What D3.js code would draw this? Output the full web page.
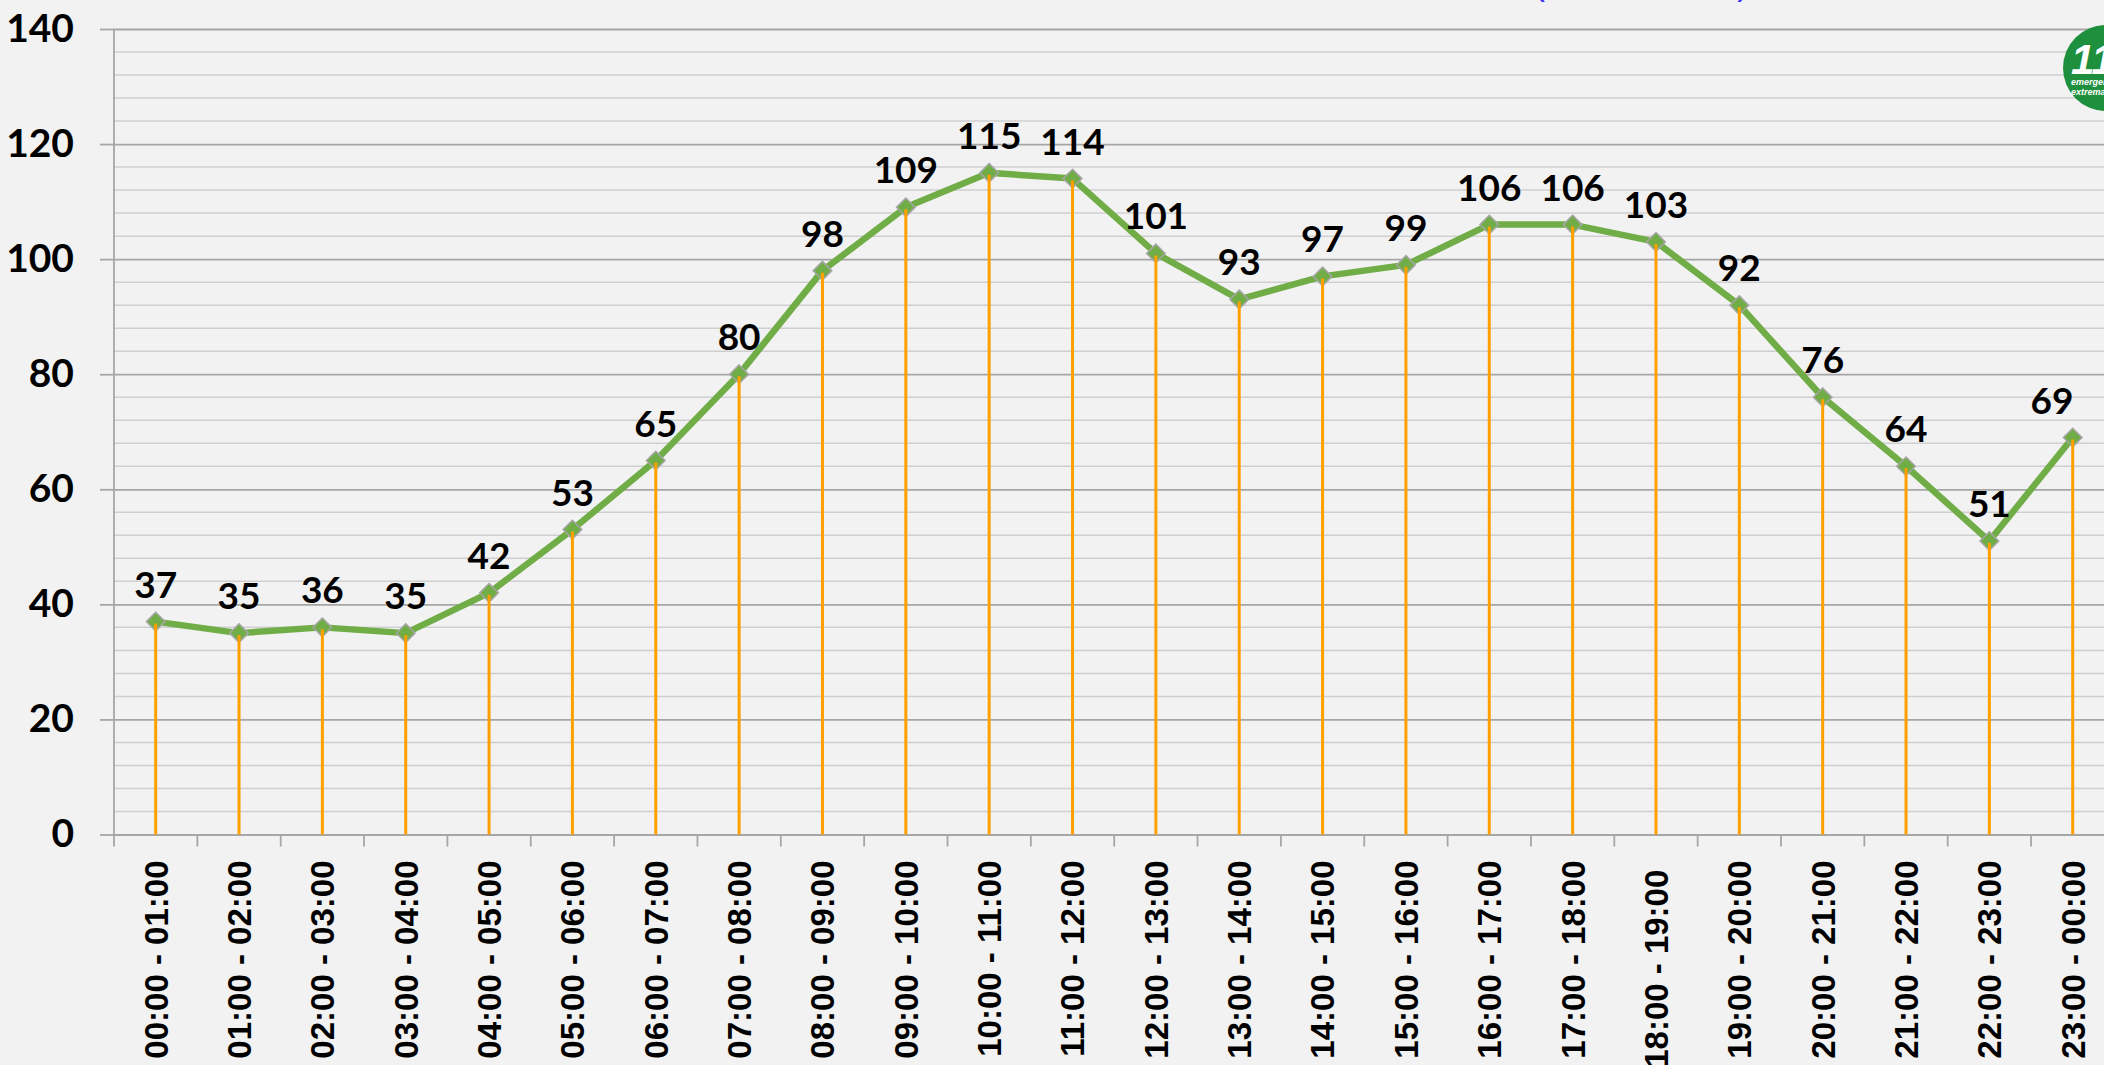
<!DOCTYPE html>
<html>
<head>
<meta charset="utf-8">
<script src="https://cdn.jsdelivr.net/npm/d3@7"></script>
<style>
  body { margin: 0; background: #f2f2f2; }
  svg { display: block; }
</style>
</head>
<body>
<script>
// franjas horarias
const categories = [
  "00:00 - 01:00", "01:00 - 02:00", "02:00 - 03:00", "03:00 - 04:00",
  "04:00 - 05:00", "05:00 - 06:00", "06:00 - 07:00", "07:00 - 08:00",
  "08:00 - 09:00", "09:00 - 10:00", "10:00 - 11:00", "11:00 - 12:00",
  "12:00 - 13:00", "13:00 - 14:00", "14:00 - 15:00", "15:00 - 16:00",
  "16:00 - 17:00", "17:00 - 18:00", "18:00 - 19:00\u00a0", "19:00 - 20:00",
  "20:00 - 21:00", "21:00 - 22:00", "22:00 - 23:00", "23:00 - 00:00"
];
const values = [37, 35, 36, 35, 42, 53, 65, 80, 98, 109, 115, 114,
                101, 93, 97, 99, 106, 106, 103, 92, 76, 64, 51, 69];
const majorTicks = [0, 20, 40, 60, 80, 100, 120, 140];
const minorTicks = d3.range(0, 141, 4);

const W = 2104, H = 1065;
const plotLeft = 114, plotTop = 29, plotBottom = 834.5;
const bandW = 83.35;

const svg = d3.select("body").append("svg")
    .attr("width", W)
    .attr("height", H);

svg.append("rect").attr("width", W).attr("height", H).attr("fill", "#f2f2f2");

const x = d3.scaleBand()
    .domain(categories)
    .range([plotLeft, plotLeft + bandW * categories.length]);

const y = d3.scaleLinear()
    .domain([0, 140])
    .range([plotBottom, plotTop]);

// lineas de division secundarias
svg.append("g")
  .selectAll("line")
  .data(minorTicks.filter(d => d % 20 !== 0))
  .enter().append("line")
    .attr("x1", plotLeft).attr("x2", W)
    .attr("y1", d => y(d)).attr("y2", d => y(d))
    .attr("stroke", "#cfcfcf")
    .attr("stroke-width", 1.5);

// eje Y con lineas principales
const yAxis = svg.append("g")
    .attr("transform", `translate(${plotLeft},0)`)
    .call(d3.axisLeft(y).tickValues(majorTicks).tickSize(14).tickPadding(26));
yAxis.select(".domain").remove();
yAxis.selectAll(".tick line").clone()
    .attr("x1", 0).attr("x2", W - plotLeft);
yAxis.selectAll(".tick line")
    .attr("stroke", "#a6a6a6")
    .attr("stroke-width", 1.8);
yAxis.selectAll(".tick text")
    .attr("font-family", "Lato, sans-serif")
    .attr("font-weight", "bold")
    .attr("font-size", 39)
    .attr("fill", "#000");

// linea del eje Y
svg.append("line")
    .attr("x1", plotLeft).attr("x2", plotLeft)
    .attr("y1", plotTop).attr("y2", plotBottom + 12)
    .attr("stroke", "#a6a6a6")
    .attr("stroke-width", 1.8);

// eje X
const xAxis = svg.append("g")
    .attr("transform", `translate(0,${plotBottom})`)
    .call(d3.axisBottom(x).tickSize(0).tickPadding(0));
xAxis.select(".domain")
    .attr("stroke", "#a6a6a6")
    .attr("stroke-width", 1.8);
xAxis.selectAll(".tick text")
    .attr("transform", "translate(0,26) rotate(-90)")
    .attr("text-anchor", "end")
    .attr("dy", "0.36em")
    .attr("font-family", "'Liberation Sans', Arial, sans-serif")
    .attr("font-weight", "bold")
    .attr("font-size", 33)
    .attr("fill", "#000");

// marcas entre categorias
svg.append("g")
  .selectAll("line")
  .data(categories.slice(1))
  .enter().append("line")
    .attr("x1", d => x(d)).attr("x2", d => x(d))
    .attr("y1", plotBottom).attr("y2", plotBottom + 12)
    .attr("stroke", "#a6a6a6")
    .attr("stroke-width", 1.8);

const cx = (d, i) => x(categories[i]) + x.bandwidth() / 2;

// linea de la serie
svg.append("path")
    .datum(values)
    .attr("fill", "none")
    .attr("stroke", "#70ad47")
    .attr("stroke-width", 6.5)
    .attr("stroke-linejoin", "round")
    .attr("d", d3.line().x(cx).y(d => y(d)));

// marcadores
svg.append("g")
  .selectAll("path")
  .data(values)
  .enter().append("path")
    .attr("transform", (d, i) => `translate(${cx(d, i)},${y(d)})`)
    .attr("d", d3.symbol().type(d3.symbolDiamond2).size(220))
    .attr("fill", "#70ad47")
    .attr("stroke", "#a5a5a5")
    .attr("stroke-width", 1.5);

// lineas verticales hasta el eje
svg.append("g")
  .selectAll("line")
  .data(values)
  .enter().append("line")
    .attr("x1", cx).attr("x2", cx)
    .attr("y1", d => y(d) + 2).attr("y2", plotBottom)
    .attr("stroke", "#ffa000")
    .attr("stroke-width", 3);

// etiquetas de datos
svg.append("g")
  .selectAll("text")
  .data(values)
  .enter().append("text")
    .attr("x", (d, i) => Math.min(cx(d, i), W - 52))
    .attr("y", d => y(d) - 24)
    .attr("text-anchor", "middle")
    .attr("font-family", "Lato, sans-serif")
    .attr("font-weight", "bold")
    .attr("font-size", 37)
    .attr("fill", "#000")
    .text(d => d);

// texto azul recortado en la parte superior
svg.append("text")
    .attr("x", 1533)
    .attr("y", -6)
    .attr("font-family", "'Liberation Sans', Arial, sans-serif")
    .attr("font-size", 36)
    .attr("fill", "#3b2bff")
    .text("(2019 - 2020)");

// logotipo 112
const logo = svg.append("g").attr("transform", "translate(2106,68)");
logo.append("circle").attr("r", 43).attr("fill", "#1e8f3c");
logo.append("text")
    .attr("x", -35).attr("y", 6)
    .attr("font-family", "'Liberation Sans', Arial, sans-serif")
    .attr("font-weight", "bold")
    .attr("font-style", "italic")
    .attr("font-size", 42)
    .attr("fill", "#fff")
    .text("112");
logo.append("text")
    .attr("x", -35).attr("y", 17)
    .attr("font-family", "'Liberation Sans', Arial, sans-serif")
    .attr("font-weight", "bold")
    .attr("font-style", "italic")
    .attr("font-size", 9)
    .attr("fill", "#fff")
    .text("emergencias");
logo.append("text")
    .attr("x", -35).attr("y", 27)
    .attr("font-family", "'Liberation Sans', Arial, sans-serif")
    .attr("font-weight", "bold")
    .attr("font-style", "italic")
    .attr("font-size", 9)
    .attr("fill", "#fff")
    .text("extremadura");
</script>
</body>
</html>
